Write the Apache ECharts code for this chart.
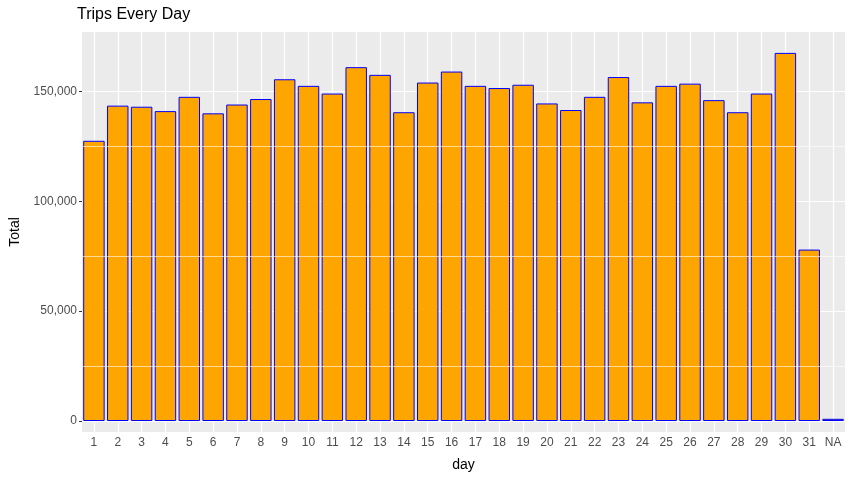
<!DOCTYPE html>
<html>
<head>
<meta charset="utf-8">
<script src="https://cdn.jsdelivr.net/npm/echarts@6/dist/echarts.min.js"></script>
<style>html,body{margin:0;padding:0;background:#fff}#c{width:853px;height:484px}</style>
</head>
<body>
<div id="c"></div>
<script>
const days = ['1','2','3','4','5','6','7','8','9','10','11','12','13','14','15','16','17','18','19','20','21','22','23','24','25','26','27','28','29','30','31','NA']
const totals = [127500, 143500, 143000, 141000, 147500, 140000, 144000, 146500, 155500, 152500,
  149000, 161000, 157500, 140500, 154000, 159000, 152500, 151500, 153000, 144500,
  141500, 147500, 156500, 145000, 152500, 153500, 146000, 140500, 149000, 167500,
  78000, 1000]
const yTicks = [0, 50000, 100000, 150000]
const yMinor = [25000, 75000, 125000]

const chart = echarts.init(document.getElementById('c'))
chart.setOption({
  animation: false,
  title: {
    text: 'Trips Every Day', left: 72, top: 2,
    textStyle: { fontFamily: 'Liberation Sans', fontSize: 16, fontWeight: 'normal', color: '#000' }
  },
  grid: {
    left: 74, right: 8, top: 32, bottom: 52,
    show: true, backgroundColor: '#EBEBEB', borderWidth: 0
  },
  xAxis: {
    type: 'category', data: days,
    name: 'day', nameLocation: 'middle', nameGap: 26,
    nameTextStyle: { fontFamily: 'Liberation Sans', fontSize: 14, color: '#000' },
    axisLine: { show: false },
    axisTick: { alignWithLabel: true, length: 3, lineStyle: { color: '#333' } },
    axisLabel: { fontFamily: 'Liberation Sans', fontSize: 12, color: '#4D4D4D', margin: 5, interval: 0 },
    splitLine: { show: true, alignWithLabel: true, lineStyle: { color: '#fff', width: 1.2 } }
  },
  yAxis: {
    type: 'value', min: -5000, max: 177000,
    name: 'Total', nameLocation: 'middle', nameGap: 60,
    nameTextStyle: { fontFamily: 'Liberation Sans', fontSize: 14, color: '#000' },
    axisLine: { show: false },
    axisTick: { show: true, length: 3, customValues: yTicks, lineStyle: { color: '#333' } },
    axisLabel: {
      customValues: yTicks, fontFamily: 'Liberation Sans', fontSize: 12, color: '#4D4D4D', margin: 5,
      formatter: v => v.toLocaleString('en-US')
    },
    splitLine: { show: true, lineStyle: { color: '#fff', width: 1.2 } }
  },
  series: [{
    type: 'line', data: [], z: 1, silent: true,
    markLine: {
      silent: true, symbol: 'none', label: { show: false },
      lineStyle: { color: '#fff', width: 0.6, type: 'solid' },
      data: yMinor.map(v => ({ yAxis: v }))
    }
  }, {
    type: 'bar', data: totals, barCategoryGap: '10%', z: 2,
    itemStyle: { color: '#FFA500', borderColor: '#0000FF', borderWidth: 1 }
  }]
})
</script>
</body>
</html>
